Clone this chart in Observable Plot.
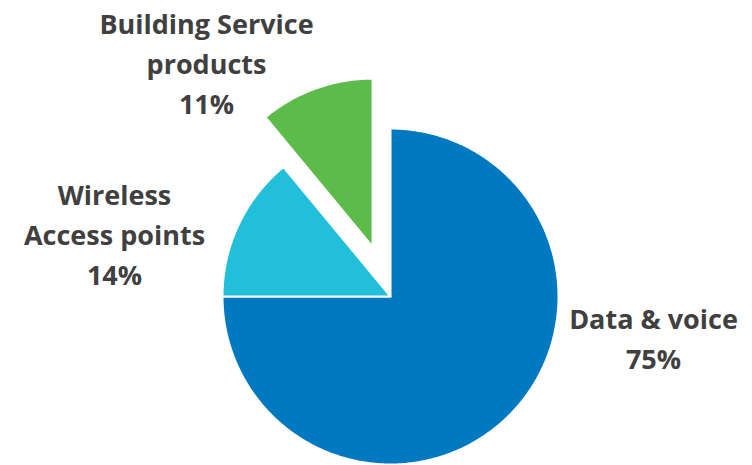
<!DOCTYPE html>
<html>
<head>
<meta charset="utf-8">
<script src="https://cdn.jsdelivr.net/npm/d3@7"></script>
<script src="https://cdn.jsdelivr.net/npm/@observablehq/plot@0.6"></script>
<style>
  html, body { margin: 0; padding: 0; background: #fff; }
  #chart svg { display: block; }
</style>
</head>
<body>
<div id="chart"></div>
<script>
// ---- data ----
const categories = ["Data & voice", "Wireless\nAccess points", "Building Service\nproducts"];
const values = [75, 14, 11];
const percentLabels = ["75%", "14%", "11%"];
const colors = ["#0079C1", "#22BFDB", "#5DBB4A"];
const exploded = [false, false, true];

// ---- layout (pixels in scale units, centre of pie at 0,0) ----
const W = 752, H = 465;
const cx = 390, cy = 296, R = 168, explode = 53;
const labelPos = [[263, 40], [-276, -64], [-184, -235]]; // label centres relative to pie centre

const arcs = d3.pie().sort(null).startAngle(0).endAngle(2 * Math.PI)(values);

const pts = [];
arcs.forEach((a, i) => {
  const mid = (a.startAngle + a.endAngle) / 2;
  const ox = exploded[i] ? explode * Math.sin(mid) : 0;
  const oy = exploded[i] ? -explode * Math.cos(mid) : 0;
  const n = Math.max(8, Math.ceil((a.endAngle - a.startAngle) / 0.01));
  pts.push({name: categories[i], x: ox, y: oy});
  for (let k = 0; k <= n; k++) {
    const t = a.startAngle + (a.endAngle - a.startAngle) * k / n;
    pts.push({name: categories[i], x: ox + R * Math.sin(t), y: oy - R * Math.cos(t)});
  }
  pts.push({name: categories[i], x: ox, y: oy});
});

const labels = categories.map((c, i) => ({
  text: c + "\n" + percentLabels[i],
  x: labelPos[i][0],
  y: labelPos[i][1]
}));

const chart = Plot.plot({
  width: W,
  height: H,
  margin: 0,
  x: {domain: [-cx, W - cx], range: [0, W], axis: null},
  y: {domain: [-cy, H - cy], range: [0, H], axis: null},
  color: {domain: categories, range: colors},
  style: {background: "#fff"},
  marks: [
    Plot.line(pts, {x: "x", y: "y", z: "name", fill: "name", stroke: "white", strokeWidth: 2, curve: "linear-closed"}),
    Plot.text(labels, {
      x: "x", y: "y", text: "text",
      fontFamily: "Open Sans", fontWeight: "bold", fontSize: 27,
      lineHeight: 1.48, fill: "#404040", textAnchor: "middle"
    })
  ]
});
document.getElementById("chart").appendChild(chart);
</script>
</body>
</html>
